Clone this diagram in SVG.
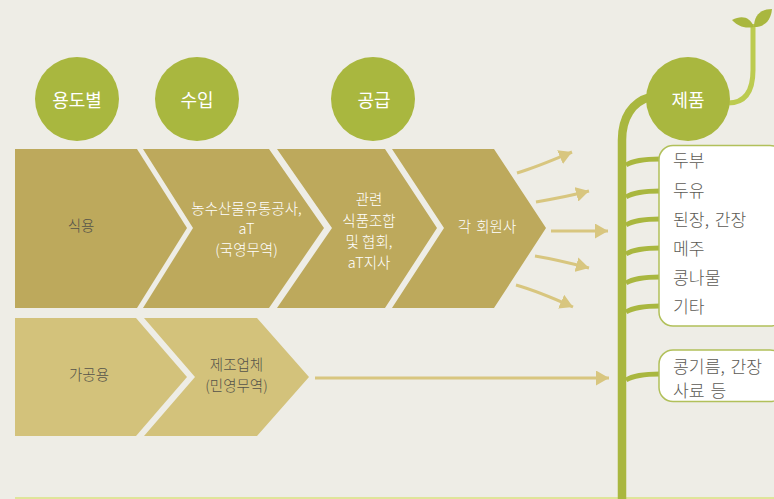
<svg xmlns="http://www.w3.org/2000/svg" width="774" height="499" viewBox="0 0 774 499">
<style>
text{font-family:"Noto Sans CJK KR","Liberation Sans",sans-serif;text-anchor:middle}
.head{font-size:18px;font-weight:400;fill:#fff}
.circle{fill:#a9b73f}
.dark{fill:#bda95c}
.light{fill:#d3c27b}
.wt{font-size:14.5px;fill:#fff;font-weight:300}
.dt{font-size:14.5px;fill:#55534a;font-weight:300}
.prod{font-size:17.2px;fill:#5c5a54;font-weight:300;text-anchor:start;word-spacing:2px}
.box{fill:#fff;stroke:#b1c05a;stroke-width:1.5}
.arrow{fill:none;stroke:#d8c67f;stroke-width:3}
.branch{fill:none;stroke:#a9b73f;stroke-width:5}
</style>
<defs>
<marker id="head" markerUnits="userSpaceOnUse" markerWidth="15" markerHeight="15" refX="13" refY="7.5" orient="auto"><path d="M0 0L13 7.5L0 15Z" fill="#d8c67f"/></marker>
</defs>
<rect width="774" height="499" fill="#eeede6"/>
<path d="M15 498H774" stroke="#dfe59a" stroke-width="2" fill="none"/>

<g id="connectors">
<path class="arrow" d="M517 173C537 167 553 160 572 152" marker-end="url(#head)"/>
<path class="arrow" d="M536 202C553 199 570 196 589 191" marker-end="url(#head)"/>
<path class="arrow" d="M551 231H608" marker-end="url(#head)"/>
<path class="arrow" d="M535 256C553 259 570 263 589 268" marker-end="url(#head)"/>
<path class="arrow" d="M516 285C537 291 553 298 573 307" marker-end="url(#head)"/>
<path class="arrow" d="M315 378H609" marker-end="url(#head)"/>
</g>

<g id="stem">
<path d="M622 499V140C622 118 632 102 650 97" fill="none" stroke="#a9b73f" stroke-width="8.5"/>
<path class="branch" d="M626 165C634 160 646 159 660 159"/>
<path class="branch" d="M626 197C634 192 646 191 660 191"/>
<path class="branch" d="M626 225C634 220 646 219 660 219"/>
<path class="branch" d="M626 254C634 249 646 248 660 248"/>
<path class="branch" d="M626 283C634 278 646 277 660 277"/>
<path class="branch" d="M626 312C634 307 646 306 660 306"/>
<path class="branch" d="M626 380C634 375 646 374 660 374"/>
<path d="M728 103C746 103 753 90 753 70V24" fill="none" stroke="#bccb50" stroke-width="5"/>
<path d="M732 20C742 15 750 17 754 27C744 29 738 26 732 20Z" fill="#a9b73f"/>
<path d="M754 27C754 15 761 9 772 9C771 20 765 27 754 27Z" fill="#a9b73f"/>
</g>

<g id="cat-usage"><circle class="circle" cx="77" cy="99" r="42"/><text class="head" x="77" y="107">용도별</text></g>
<g id="cat-import"><circle class="circle" cx="197" cy="99" r="42"/><text class="head" x="197" y="107">수입</text></g>
<g id="cat-supply"><circle class="circle" cx="373" cy="99" r="42"/><text class="head" x="374" y="107">공급</text></g>
<g id="cat-product"><circle class="circle" cx="688" cy="99" r="42"/><text class="head" x="688" y="107">제품</text></g>

<g id="food"><path class="dark" d="M15 149H137L187 228L137 308H15Z"/><text class="dt" x="81" y="231">식용</text></g>
<g id="at"><path class="dark" d="M143 149H269L324 228L269 308H143L193 228Z"/><text class="wt" x="246.5" y="214">농수산물유통공사,</text><text class="wt" x="246.5" y="234">aT</text><text class="wt" x="246.5" y="255">(국영무역)</text></g>
<g id="assoc"><path class="dark" d="M277 149H385L437 228L385 308H277L332 228Z"/><text class="wt" x="369" y="205">관련</text><text class="wt" x="369" y="226">식품조합</text><text class="wt" x="369" y="247">및 협회,</text><text class="wt" x="369" y="268">aT지사</text></g>
<g id="members"><path class="dark" d="M392 149H494L546 228L494 308H392L444 228Z"/><text class="wt" x="487" y="232" style="word-spacing:2px">각 회원사</text></g>
<g id="processing"><path class="light" d="M15 318H136L187 377L136 436H15Z"/><text class="dt" x="89" y="380">가공용</text></g>
<g id="maker"><path class="light" d="M144 318H257L309 377L257 436H144L195 377Z"/><text class="dt" x="236.5" y="370">제조업체</text><text class="dt" x="236.5" y="391">(민영무역)</text></g>

<g id="products-main"><rect class="box" x="659" y="145.5" width="125" height="180.5" rx="14"/>
<text class="prod" x="673" y="167">두부</text><text class="prod" x="673" y="197">두유</text><text class="prod" x="673" y="226">된장, 간장</text><text class="prod" x="673" y="255">메주</text><text class="prod" x="673" y="284">콩나물</text><text class="prod" x="673" y="313">기타</text></g>
<g id="products-other"><rect class="box" x="659" y="350" width="125" height="51.5" rx="14"/>
<text class="prod" x="673" y="372.5">콩기름, 간장</text><text class="prod" x="673" y="397">사료 등</text></g>
</svg>
